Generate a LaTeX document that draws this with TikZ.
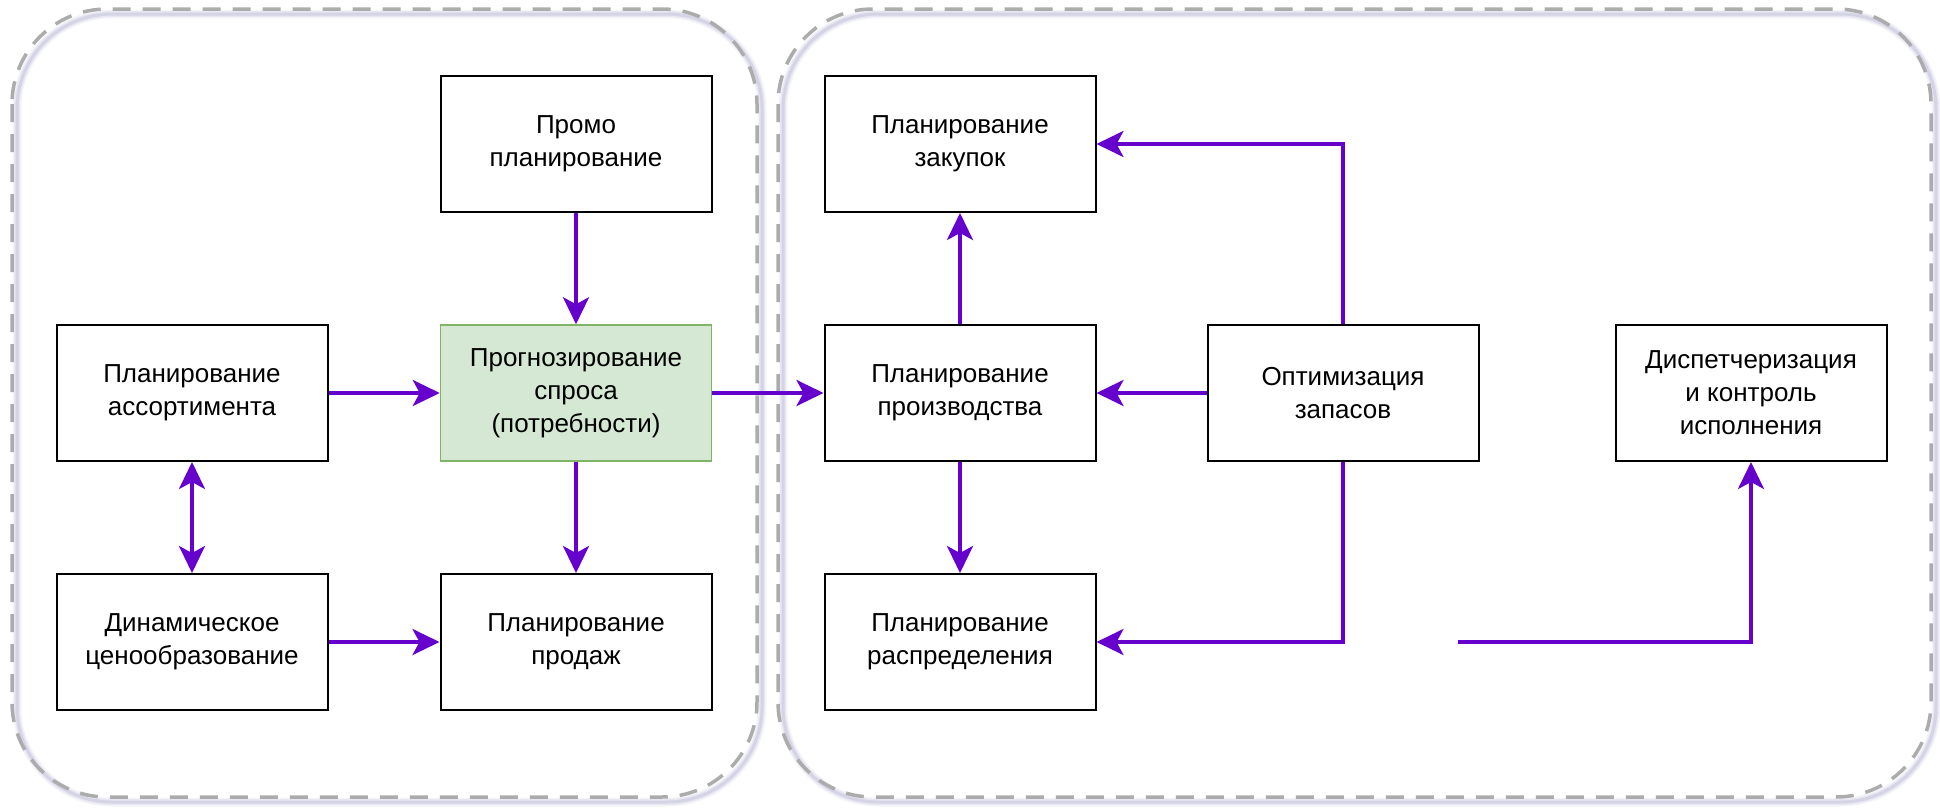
\documentclass[tikz,border=0pt]{standalone}
\usepackage{fontspec}
\setmainfont{Liberation Sans}
\usetikzlibrary{arrows.meta}
\definecolor{flow}{RGB}{102,0,204}
\definecolor{frame}{RGB}{172,172,172}
\definecolor{shade}{RGB}{110,110,170}
\definecolor{fcfill}{RGB}{213,232,212}
\definecolor{fcline}{RGB}{130,179,102}

\begin{document}
\begin{tikzpicture}[x=1pt,y=-1pt,
  flowtip/.tip={Stealth[length=27pt,width=26pt,inset=7pt]},
  box/.style={draw=black, line width=2pt, fill=white,
    minimum width=271pt, minimum height=136pt, inner sep=0pt,
    align=center, font=\fontsize{26}{33}\selectfont},
  fcbox/.style={box, draw=fcline, line width=1.5pt, fill=fcfill},
  arr/.style={draw=flow, line width=3.5pt, -flowtip},
  group/.style={draw=frame, line width=3.5pt, dash pattern=on 18pt off 12pt,
    rounded corners=95pt},
  groupshade/.style={draw=shade, rounded corners=95pt}
]
\useasboundingbox (0,0) rectangle (1940,811);

% soft shadows under the two dashed groups, cast to the lower right
\foreach \w/\o in {9/0.07, 6/0.10, 3/0.16} {
  \draw[groupshade, line width=\w pt, opacity=\o] (17,14) rectangle (762,802);
  \draw[groupshade, line width=\w pt, opacity=\o] (783,14) rectangle (1936,802);
}
% dashed groups
\draw[group] (12,9) rectangle (757,797);
\draw[group] (778,9) rectangle (1931,797);

% demand side
\node[box]   (promo)   at (576,144) {Промо\\планирование};
\node[fcbox] (fc)      at (576,393) {Прогнозирование\\спроса\\(потребности)};
\node[box]   (assort)  at (192,393) {Планирование\\ассортимента};
\node[box]   (pricing) at (192,642) {Динамическое\\ценообразование};
\node[box]   (sales)   at (576,642) {Планирование\\продаж};

% supply side
\node[box] (purch) at (960,144)  {Планирование\\закупок};
\node[box] (prod)  at (960,393)  {Планирование\\производства};
\node[box] (distr) at (960,642)  {Планирование\\распределения};
\node[box] (opt)   at (1343,393) {Оптимизация\\запасов};
\node[box] (disp)  at (1751,393) {Диспетчеризация\\и контроль\\исполнения};

\coordinate (feed) at (1458,642);

% connectors
\draw[arr] (promo) -- (fc);
\draw[arr] (fc) -- (sales);
\draw[arr] (assort) -- (fc);
\draw[arr, flowtip-flowtip] (assort) -- (pricing);
\draw[arr] (pricing) -- (sales);
\draw[arr] (fc) -- (prod);
\draw[arr] (prod) -- (purch);
\draw[arr] (prod) -- (distr);
\draw[arr] (opt) -- (prod);
\draw[arr] (opt.north) |- (purch.east);
\draw[arr] (opt.south) |- (distr.east);
\draw[arr] (feed) -| (disp.south);
\end{tikzpicture}
\end{document}
